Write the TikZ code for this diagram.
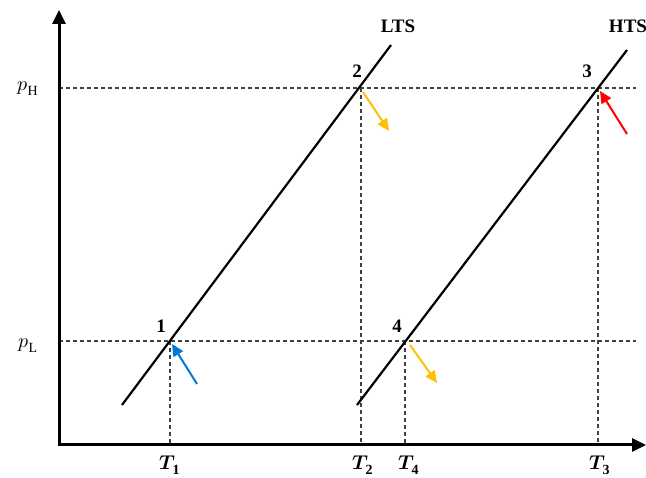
\documentclass[tikz,border=0pt]{standalone}
\usepackage{fontspec}
\setmainfont{Liberation Serif}
\usepackage{unicode-math}
\setmathfont{Latin Modern Math}
\usetikzlibrary{arrows.meta}
\definecolor{myblue}{RGB}{0,120,215}
\definecolor{myorange}{RGB}{255,192,0}
\definecolor{myred}{RGB}{255,0,0}
\begin{document}
\begin{tikzpicture}[x={(1pt,0)},y={(0,-1pt)},
  axis/.style={line width=3pt,-{Triangle[length=14pt,width=13pt]}},
  stateline/.style={line width=2.2pt},
  guide/.style={line width=1.1pt,dash pattern=on 4pt off 3pt,black!75},
  flow/.style={line width=2pt,-{Triangle[length=12pt,width=11pt]}},
  lbl/.style={font=\fontsize{19}{22}\selectfont\bfseries,inner sep=0pt},
  mlbl/.style={font=\fontsize{20}{24}\selectfont,inner sep=0pt}]
\useasboundingbox (0,0) rectangle (646,478);
% key points
\coordinate (O) at (59,445);
\coordinate (ytip) at (59,10);
\coordinate (xtip) at (646,445);
\coordinate (P1) at (170,341);
\coordinate (P2) at (361,88);
\coordinate (P3) at (598,88);
\coordinate (P4) at (405,341);
\coordinate (L0) at (122,405);
\coordinate (L1) at (391,45);
\coordinate (H0) at (357,405);
\coordinate (H1) at (627,50);
\coordinate (hH0) at (59,88);
\coordinate (hH1) at (636,88);
\coordinate (hL0) at (59,341);
\coordinate (hL1) at (636,341);
\coordinate (b1) at (170,445);
\coordinate (b2) at (361,445);
\coordinate (b3) at (598,445);
\coordinate (b4) at (405,445);
% guides
\draw[guide] (hH0) -- (hH1);
\draw[guide] (hL0) -- (hL1);
\draw[guide] (P1) -- (b1);
\draw[guide] (P2) -- (b2);
\draw[guide] (P3) -- (b3);
\draw[guide] (P4) -- (b4);
% state lines
\draw[stateline] (L0) -- (L1);
\draw[stateline] (H0) -- (H1);
% axes
\draw[axis,line cap=rect] (O) -- (ytip);
\draw[axis] (O) -- (xtip);
% flow arrows
\coordinate (a1s) at (197,384);
\coordinate (a1e) at (172,344);
\coordinate (a2s) at (363,92);
\coordinate (a2e) at (389,131);
\coordinate (a3s) at (627,134);
\coordinate (a3e) at (600,91);
\coordinate (a4s) at (410,345);
\coordinate (a4e) at (437,383);
\draw[flow,myblue] (a1s) -- (a1e);
\draw[flow,myorange] (a2s) -- (a2e);
\draw[flow,myred] (a3s) -- (a3e);
\draw[flow,myorange] (a4s) -- (a4e);
% labels
\node[lbl] (n1) at (161,326) {1};
\node[lbl] (n2) at (357,71) {2};
\node[lbl] (n3) at (587,71) {3};
\node[lbl] (n4) at (397,326) {4};
\node[lbl] (lts) at (398,26) {LTS};
\node[lbl] (hts) at (628,26) {HTS};
\node[mlbl] (pH) at (28,89) {$p_{\mathrm{H}}$};
\node[mlbl] (pL) at (28,346) {$p_{\mathrm{L}}$};
\node[mlbl] (T1) at (170,465) {$\symbfit{T}_{\mathbf{1}}$};
\node[mlbl] (T2) at (363,465) {$\symbfit{T}_{\mathbf{2}}$};
\node[mlbl] (T4) at (409,465) {$\symbfit{T}_{\mathbf{4}}$};
\node[mlbl] (T3) at (600,465) {$\symbfit{T}_{\mathbf{3}}$};
\end{tikzpicture}
\end{document}
